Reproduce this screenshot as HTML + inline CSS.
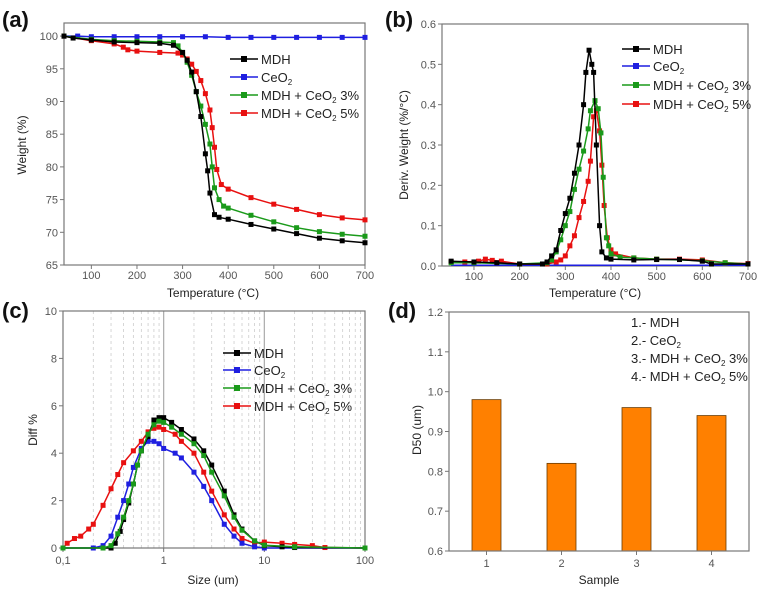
<!DOCTYPE html>
<html><head><meta charset="utf-8">
<style>
body{margin:0;background:#fff;width:764px;height:595px;overflow:hidden;font-family:"Liberation Sans",sans-serif}
svg text{font-family:"Liberation Sans",sans-serif}
</style></head>
<body>
<svg id="fig" width="764" height="595" xmlns="http://www.w3.org/2000/svg"></svg>
<script>
// ---- Panel (a) data: TGA weight ----
const aTempMDH=[40,60,100,150,200,250,280,300,310,320,330,340,350,355,360,370,380,400,450,500,550,600,650,700];
const aMDH=[100,99.7,99.4,99.1,99.0,98.9,98.6,97.5,96.3,94.5,91.5,87.7,82,79.4,76,72.7,72.3,72.0,71.2,70.5,69.8,69.1,68.7,68.4];
const aTempCe=[40,70,100,150,200,250,300,350,400,450,500,550,600,650,700];
const aCe=[100,100,99.9,99.9,99.9,99.9,99.9,99.9,99.8,99.8,99.8,99.8,99.8,99.8,99.8];
const aTemp3=[40,100,150,200,250,280,290,300,310,320,330,340,350,360,365,370,380,390,400,450,500,550,600,650,700];
const a3=[100,99.5,99.3,99.2,99.1,99,98.5,97.5,96,94,91.5,89.3,86.5,83.5,80,76.8,75,74,73.7,72.6,71.6,70.7,70.1,69.7,69.4];
const aTemp5=[40,100,150,170,180,200,250,290,300,310,320,330,340,350,360,365,370,375,385,400,450,500,550,600,650,700];
const a5=[100,99.3,98.8,98.3,97.9,97.7,97.5,97.4,97.1,96.5,95.7,94.6,93.2,91.2,88.7,86,83,79.6,77.3,76.6,75.3,74.3,73.5,72.7,72.2,71.9];
// ---- Panel (b) data: DTG ----
const bTempMDH=[50,100,150,200,250,260,270,280,290,300,310,320,330,340,345,352,358,362,368,375,380,390,400,450,500,550,600,620,700];
const bMDH=[0.012,0.01,0.008,0.005,0.005,0.01,0.025,0.04,0.088,0.13,0.168,0.23,0.30,0.40,0.48,0.535,0.50,0.48,0.3,0.1,0.035,0.02,0.017,0.015,0.016,0.016,0.012,0.005,0.005];
const bTempCe=[50,150,250,350,450,550,700];
const bCe=[0.002,0.002,0.002,0.002,0.002,0.002,0.002];
const bTemp3=[50,100,200,260,270,280,290,300,310,320,330,340,350,355,365,372,378,383,390,395,400,420,450,500,600,650,700];
const b3=[0.008,0.008,0.005,0.008,0.015,0.035,0.065,0.1,0.135,0.19,0.24,0.285,0.34,0.385,0.41,0.39,0.33,0.22,0.07,0.05,0.03,0.022,0.02,0.017,0.013,0.008,0.005];
const bTemp5=[50,80,110,125,140,160,200,260,280,290,300,310,320,330,340,350,355,362,368,375,380,385,392,400,410,450,500,550,600,650,700];
const b5=[0.01,0.01,0.012,0.017,0.014,0.012,0.005,0.005,0.01,0.015,0.025,0.05,0.075,0.12,0.16,0.21,0.26,0.37,0.385,0.335,0.25,0.15,0.07,0.04,0.03,0.02,0.017,0.017,0.015,0.008,0.006];
// ---- Panel (c) data: particle size ----
const cSizeMDH=[0.1,0.3,0.33,0.37,0.4,0.45,0.5,0.55,0.6,0.7,0.8,0.9,1.0,1.2,1.5,2,2.5,3,4,5,6,8,10,15,20,100];
const cMDH=[0,0,0.2,0.7,1.2,1.9,2.7,3.5,4.1,4.7,5.4,5.5,5.5,5.3,5.0,4.6,4.1,3.5,2.4,1.4,0.8,0.3,0.1,0.05,0.02,0];
const cSizeCe=[0.1,0.2,0.25,0.3,0.35,0.4,0.45,0.5,0.6,0.7,0.8,0.9,1,1.3,1.5,2,2.5,3,4,5,6,8,10,100];
const cCe=[0,0,0.1,0.5,1.3,2.0,2.7,3.4,4.2,4.5,4.5,4.4,4.2,4.0,3.8,3.2,2.6,2.0,1.0,0.5,0.2,0.05,0,0];
const cSize3=[0.1,0.25,0.3,0.35,0.4,0.45,0.5,0.55,0.6,0.7,0.8,0.9,1,1.2,1.5,2,2.5,3,4,5,6,8,10,20,100];
const c3=[0,0,0.1,0.6,1.3,2.0,2.7,3.5,4.1,4.8,5.2,5.35,5.3,5.1,4.8,4.4,3.9,3.2,2.2,1.3,0.75,0.3,0.12,0.05,0];
const cSize5=[0.1,0.11,0.13,0.15,0.18,0.2,0.25,0.3,0.35,0.4,0.5,0.6,0.7,0.8,0.9,1,1.3,1.5,2,2.5,3,4,5,6,8,10,15,20,30,40,100];
const c5=[0,0.2,0.4,0.5,0.8,1.0,1.8,2.5,3.1,3.6,4.1,4.5,4.9,5.05,5.1,5.0,4.8,4.5,4.0,3.2,2.4,1.4,0.8,0.4,0.2,0.25,0.2,0.15,0.1,0.02,0];
// ---- Panel (d) data: D50 ----
const dSamples=[1,2,3,4];
const dD50=[0.98,0.82,0.96,0.94];
const aYTicks=[65,70,75,80,85,90,95,100];
const tempTicks=[100,200,300,400,500,600,700];
const bYTicks=[0,0.1,0.2,0.3,0.4,0.5,0.6];
const cYTicks=[0,2,4,6,8,10];
const cXTicks=[0.1,1,10,100];
const cXLabels=["0,1","1","10","100"];
const dYTicks=[0.6,0.7,0.8,0.9,1.0,1.1,1.2];

const NS="http://www.w3.org/2000/svg";
const svg=document.getElementById('fig');
function el(tag,attrs,parent){const e=document.createElementNS(NS,tag);for(const k in attrs)e.setAttribute(k,attrs[k]);(parent||svg).appendChild(e);return e;}
function txt(s,x,y,size,anchor,parent,extra){const t=el('text',Object.assign({x:x,y:y,'font-size':size,'text-anchor':anchor||'middle',fill:'#333'},extra||{}),parent);t.textContent=s;return t;}
function sub(t,base,subs,rest){t.textContent=base;const s=document.createElementNS(NS,'tspan');s.setAttribute('font-size','8');s.setAttribute('dy','3');s.textContent=subs;t.appendChild(s);if(rest){const r=document.createElementNS(NS,'tspan');r.setAttribute('dy','-3');r.textContent=rest;t.appendChild(r);}}

function makePanel(name,L,R,T,B,x0,x1,y0,y1,logx){
  const g=el('g',{});
  
  
  const sx=logx?(v=>L+(Math.log10(v)-Math.log10(x0))/(Math.log10(x1)-Math.log10(x0))*(R-L)):(v=>L+(v-x0)/(x1-x0)*(R-L));
  const sy=v=>B-(v-y0)/(y1-y0)*(B-T);
  return {g,sx,sy,L,R,T,B};
}
function frame(p){const r=el('rect',{x:p.L,y:p.T,width:p.R-p.L,height:p.B-p.T,fill:'none',stroke:'#777','stroke-width':1.2},p.g);}
function yTicks(p,ticks,fmt){ticks.forEach(v=>{const y=p.sy(v);el('line',{x1:p.L,x2:p.L-4,y1:y,y2:y,stroke:'#777'},p.g);const t=txt(fmt(v),p.L-6,y+4,11,'end',p.g,{fill:'#555'});});}
function xTicks(p,ticks,labels,ty){ticks.forEach((v,i)=>{const x=p.sx(v);el('line',{x1:x,x2:x,y1:p.B,y2:p.B+4,stroke:'#777'},p.g);const t=txt(labels?labels[i]:String(v),x,ty,11,'middle',p.g,{fill:'#555'});});}
function series(p,xs,ys,color,name,ms){
  const g=el('g',{},p.g);
  
  
  const pts=xs.map((x,i)=>p.sx(x).toFixed(1)+','+p.sy(ys[i]).toFixed(1)).join(' ');
  el('polyline',{points:pts,fill:'none',stroke:color,'stroke-width':1.5},g);
  if(ms>0)xs.forEach((x,i)=>{const m=el('rect',{x:p.sx(x)-ms/2,y:p.sy(ys[i])-ms/2,width:ms,height:ms,fill:color},g);});
}
function legend(p,x,ys,items){
  items.forEach((it,i)=>{const g=el('g',{},p.g);
    
    
    el('line',{x1:x,x2:x+28,y1:ys[i],y2:ys[i],stroke:it.c,'stroke-width':1.5},g);
    el('rect',{x:x+11,y:ys[i]-3,width:6,height:6,fill:it.c},g);
    const t=txt('',x+31,ys[i]+5,13,'start',g,{fill:'#222'});
    if(it.sub)sub(t,it.base,'2',it.rest);else t.textContent=it.base;});
}
const legItems=[{c:'#000',base:'MDH'},{c:'#1f1fe0',base:'CeO',sub:1,rest:''},{c:'#1a9a1a',base:'MDH + CeO',sub:1,rest:' 3%'},{c:'#e81010',base:'MDH + CeO',sub:1,rest:' 5%'}];
function title(s,x,y,rot,g){const t=txt(s,x,y,12,'middle',g,rot?{transform:`rotate(-90 ${x} ${y})`,fill:'#222'}:{fill:'#222'});}
function panelLabel(s,x,y){const t=txt(s,x,y,22,'start',svg,{'font-weight':'bold',fill:'#111'});}

// Panel a
const pa=makePanel('panel-a-tga',64,365,23,265,40,700,65,102,false);
frame(pa);yTicks(pa,aYTicks,v=>String(v));xTicks(pa,tempTicks,null,279);
series(pa,aTempCe,aCe,'#1f1fe0','series-ceo2',5);
series(pa,aTemp5,a5,'#e81010','series-mdh-ceo2-5',5);
series(pa,aTemp3,a3,'#1a9a1a','series-mdh-ceo2-3',5);
series(pa,aTempMDH,aMDH,'#000','series-mdh',5);
legend(pa,230,[59,77,95,113],legItems);
title('Temperature (°C)',213,297,false,pa.g);title('Weight (%)',26,145,true,pa.g);
panelLabel('(a)',2,27);

// Panel b
const pb=makePanel('panel-b-dtg',442,748,24,266,30,700,0,0.6,false);
frame(pb);yTicks(pb,bYTicks,v=>v.toFixed(1));xTicks(pb,tempTicks,null,280);
series(pb,bTempCe,bCe,'#1f1fe0','series-ceo2',0);
series(pb,bTemp5,b5,'#e81010','series-mdh-ceo2-5',5);
series(pb,bTemp3,b3,'#1a9a1a','series-mdh-ceo2-3',5);
series(pb,bTempMDH,bMDH,'#000','series-mdh',5);
legend(pb,622,[49,66,85,104],legItems);
title('Temperature (°C)',595,297,false,pb.g);title('Deriv. Weight (%/°C)',408,145,true,pb.g);
panelLabel('(b)',385,27);

// Panel c
const pc=makePanel('panel-c-size',63,365,311,548,0.1,100,0,10,true);
for(let d=0.1;d<100;d*=10){for(let k=2;k<=9;k++){const x=pc.sx(d*k);el('line',{x1:x,x2:x,y1:pc.T,y2:pc.B,stroke:'#ccc','stroke-dasharray':'3,3','stroke-width':0.8},pc.g);}}
[1,10].forEach(v=>{const x=pc.sx(v);el('line',{x1:x,x2:x,y1:pc.T,y2:pc.B,stroke:'#aaa','stroke-width':1.2},pc.g);});
frame(pc);yTicks(pc,cYTicks,v=>String(v));xTicks(pc,cXTicks,cXLabels,564);
series(pc,cSize5,c5,'#e81010','series-mdh-ceo2-5',5);
series(pc,cSizeCe,cCe,'#1f1fe0','series-ceo2',5);
series(pc,cSizeMDH,cMDH,'#000','series-mdh',5);
series(pc,cSize3,c3,'#1a9a1a','series-mdh-ceo2-3',5);
legend(pc,223,[353,370,388,406],legItems);
title('Size (um)',213,584,false,pc.g);title('Diff %',37,430,true,pc.g);
panelLabel('(c)',2,318);

// Panel d
const pd=makePanel('panel-d-d50',449,749,312,551,0.5,4.5,0.6,1.2,false);
dSamples.forEach((s,i)=>{const x=pd.sx(s);const b=el('rect',{x:x-14.5,y:pd.sy(dD50[i]),width:29,height:pd.B-pd.sy(dD50[i]),fill:'#ff8000',stroke:'#6a3a00','stroke-width':0.8},pd.g);
  
  });
frame(pd);yTicks(pd,dYTicks,v=>v.toFixed(1));xTicks(pd,dSamples,null,567);
title('Sample',599,584,false,pd.g);title('D50 (um)',421,430,true,pd.g);
[['1.- MDH'],['2.- CeO','',''],['3.- MDH + CeO',' 3%'],['4.- MDH + CeO',' 5%']].forEach((r,i)=>{const t=txt('',631,327+i*18,13,'start',pd.g,{fill:'#222'});
  
  
  if(i===0)t.textContent=r[0];else sub(t,r[0],'2',r[1]);});
panelLabel('(d)',388,318);
</script>
</body></html>
